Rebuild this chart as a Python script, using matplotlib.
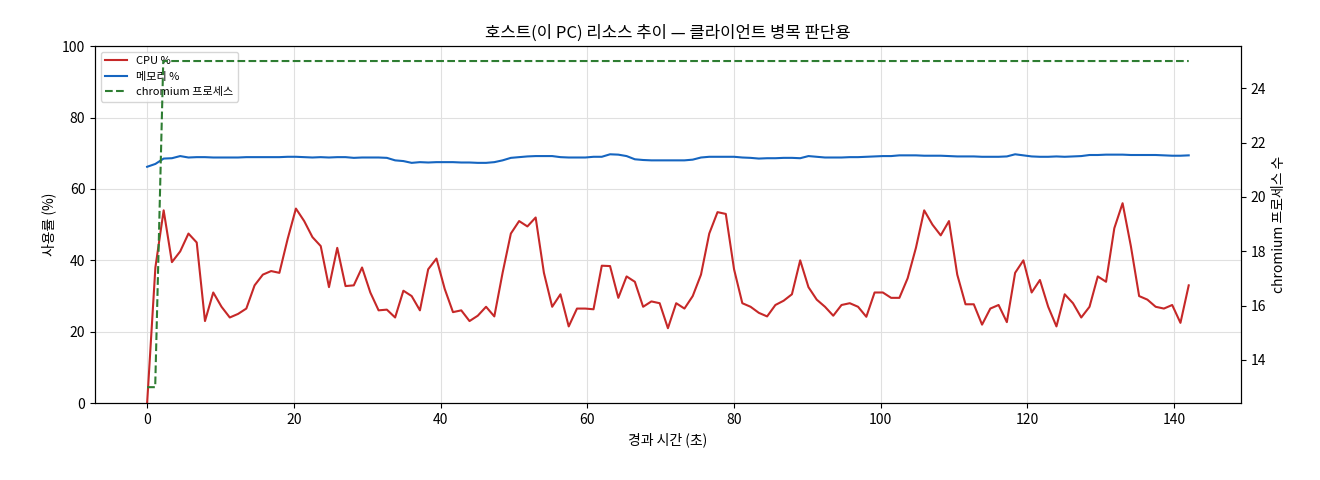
import numpy as np
import matplotlib
matplotlib.use("Agg")
import matplotlib.pyplot as plt
plt.rcParams['font.family'] = ['Noto Sans CJK KR', 'DejaVu Sans']

cpu = [0,38,54,39.5,42.5,47.5,45,23,31,27,24,25,26.5,33,36,37,36.5,46,54.5,51,
       46.5,44,32.5,43.5,32.8,33,38,31,26,26.2,24,31.5,30,26,37.5,40.5,32,25.5,26,23,
       24.5,27,24.3,36.5,47.5,51,49.5,52,36.5,27,30.5,21.5,26.5,26.5,26.3,38.5,38.4,29.5,35.5,34,
       27,28.5,28,21,28,26.5,30,36,47.5,53.5,53,37.5,28,27,25.3,24.3,27.5,28.7,30.5,40,
       32.5,29,27,24.5,27.5,28,27,24.2,31,31,29.5,29.5,35,43.5,54,50,47,51,36,27.7,
       27.7,22,26.5,27.5,22.7,36.5,40,31,34.5,27,21.5,30.5,28,24,27,35.5,34,49,56,44,
       30,29,27,26.5,27.5,22.5,33]
mem = [66.2,67,68.5,68.6,69.2,68.8,68.9,68.9,68.8,68.8,
       68.8,68.8,68.9,68.9,68.9,68.9,68.9,69,69,68.9,
       68.8,68.9,68.8,68.9,68.9,68.7,68.8,68.8,68.8,68.7,
       68,67.8,67.3,67.5,67.4,67.5,67.5,67.5,67.4,67.4,
       67.3,67.3,67.5,68,68.7,68.9,69.1,69.2,69.2,69.2,
       68.9,68.8,68.8,68.8,69,69,69.7,69.6,69.2,68.3,
       68.1,68,68,68,68,68,68.2,68.8,69,69,
       69,69,68.8,68.7,68.5,68.6,68.6,68.7,68.7,68.6,
       69.2,69,68.8,68.8,68.8,68.9,68.9,69,69.1,69.2,
       69.2,69.4,69.4,69.4,69.3,69.3,69.3,69.2,69.1,69.1,
       69.1,69,69,69,69.1,69.7,69.4,69.1,69,69,
       69.1,69,69.1,69.2,69.5,69.5,69.6,69.6,69.6,69.5,
       69.5,69.5,69.5,69.4,69.3,69.3,69.4]
proc_t = [0, 1.1, 2.2, 142]
proc = [13, 13, 25, 25]
t = np.linspace(0, 142, len(cpu))

fig, ax = plt.subplots(figsize=(13.2, 4.8), dpi=100)
l1, = ax.plot(t, cpu, color='#c62828', lw=1.5, label='CPU %')
l2, = ax.plot(t, mem, color='#1565c0', lw=1.5, label='메모리 %')
ax.set_ylim(0, 100)
ax.set_xlim(-7.1, 149.1)
ax.set_xlabel('경과 시간 (초)')
ax.set_ylabel('사용률 (%)')
ax.grid(True, color='#e0e0e0', lw=0.8)
ax2 = ax.twinx()
l3, = ax2.plot(proc_t, proc, color='#2e7d32', lw=1.5, ls='--', label='chromium 프로세스')
ax2.set_ylim(12.41, 25.55)
ax2.set_ylabel('chromium 프로세스 수')
ax.legend(handles=[l1, l2, l3], loc='upper left', fontsize=8)
ax.set_title('호스트(이 PC) 리소스 추이 — 클라이언트 병목 판단용')
fig.subplots_adjust(left=0.072, right=0.94, top=0.904, bottom=0.16)
fig.savefig('out.png')
